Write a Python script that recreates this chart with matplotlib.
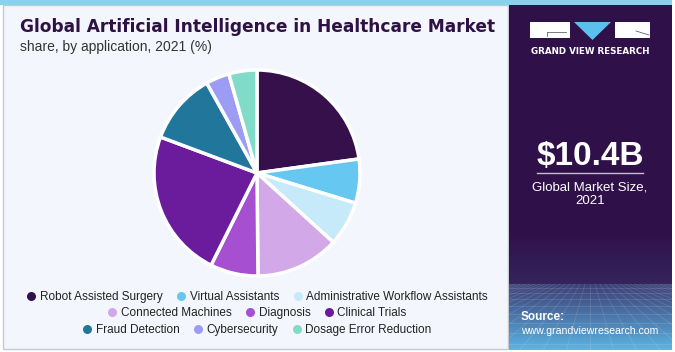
import matplotlib.pyplot as plt
import numpy as np
from matplotlib.patches import Rectangle, Polygon
from matplotlib.lines import Line2D

applications = [
    'Robot Assisted Surgery', 'Virtual Assistants', 'Administrative Workflow Assistants',
    'Connected Machines', 'Diagnosis', 'Clinical Trials',
    'Fraud Detection', 'Cybersecurity', 'Dosage Error Reduction',
]
shares = [22.8, 6.9, 7.0, 13.1, 7.5, 23.3, 11.2, 3.7, 4.4]
colors = ['#36104a', '#66c8f0', '#c6eafa', '#d3a8e8', '#a64fd1',
          '#6a1c9c', '#21779b', '#9c9cf5', '#80dcc8']
market_size = '$10.4B'
market_label = 'Global Market Size,\n2021'

W, H = 675, 352


def px(x, y, w, h):
    # pixel box (top-left origin) -> figure fraction rect
    return [x / W, 1 - (y + h) / H, w / W, h / H]


fig = plt.figure(figsize=(W / 100, H / 100), dpi=100)
fig.patch.set_facecolor('white')

# background panels
bg = fig.add_axes([0, 0, 1, 1])
bg.set_xlim(0, W)
bg.set_ylim(H, 0)
bg.axis('off')
bg.add_patch(Rectangle((3, 5), 505, 344, facecolor='#f3f6fc', edgecolor='#c5c9d2', lw=1))
bg.add_patch(Rectangle((0, 0), 672, 5, facecolor='#8dcfec', lw=0))

# right panel: purple, lighter towards a "floor" grid at the bottom
rp = fig.add_axes(px(509, 5, 163, 345))
rp.set_xlim(509, 672)
rp.set_ylim(350, 5)
rp.axis('off')
top = np.array([0x30, 0x10, 0x49]) / 255
bot = np.array([0x5c, 0xb4, 0xe4]) / 255
ys = np.linspace(5, 350, 345)
t = np.where(ys < 284,
             0.12 * np.clip((ys - 230) / 54, 0, 1),
             0.3 + 0.7 * np.clip((ys - 284) / 66, 0, 1) ** 1.1)
grad = top[None, :] * (1 - t[:, None]) + bot[None, :] * t[:, None]
rp.imshow(grad[:, None, :], extent=(509, 672, 350, 5), aspect='auto', zorder=0)
for k in range(-16, 17):
    rp.plot([590 + k * 5, 590 + k * 24], [284, 352], color='white', alpha=0.13, lw=0.6, zorder=1)
for yy in [288, 293, 299, 306, 314, 323, 333, 344]:
    rp.axhline(yy, color='white', alpha=0.13, lw=0.6, zorder=1)

# logo
rp.add_patch(Rectangle((530, 22), 40, 16, facecolor='white', lw=0, zorder=2))
rp.add_patch(Rectangle((615, 22), 35, 16, facecolor='white', lw=0, zorder=2))
rp.add_patch(Polygon([(574, 22), (611, 22), (592.5, 40)], facecolor='#5cc0ec', lw=0, zorder=2))
rp.add_line(Line2D([547, 566], [32, 32], color='#666666', lw=0.6, zorder=3))
rp.add_line(Line2D([547, 547], [32, 36], color='#666666', lw=0.6, zorder=3))
rp.add_line(Line2D([636, 649], [31, 35], color='#666666', lw=0.6, zorder=3))
rp.text(590, 52, 'GRAND VIEW RESEARCH', color='white', fontsize=6.3, fontweight='bold',
        ha='center', va='center', family='DejaVu Sans', zorder=3)

rp.text(590, 156, market_size, color='white', fontsize=24, fontweight='bold',
        ha='center', va='center', family='Liberation Sans', zorder=3)
rp.add_line(Line2D([537, 643], [173, 173], color='#c9bcd8', lw=1, zorder=3))
rp.text(590, 194, market_label, color='white', fontsize=9.5, ha='center', va='center',
        family='Liberation Sans', linespacing=1.15, zorder=3)
rp.text(521, 317, 'Source:', color='white', fontsize=8.5, fontweight='bold',
        ha='left', va='center', family='Liberation Sans', zorder=3)
rp.text(521, 331, 'www.grandviewresearch.com', color='white', fontsize=7.6,
        ha='left', va='center', family='Liberation Sans', zorder=3)

# titles, main title fitted to the reference width
title = bg.text(20, 32, 'Global Artificial Intelligence in Healthcare Market', color='#2e1145',
                fontsize=13.5, fontweight='heavy', family='DejaVu Sans', ha='left', va='baseline')
renderer = fig.canvas.get_renderer()
w = title.get_window_extent(renderer).width
title.set_fontsize(13.5 * 477 / w)
bg.text(20, 51, 'share, by application, 2021 (%)', color='#333333', fontsize=10,
        family='Liberation Sans', ha='left', va='baseline')

# pie
ax = fig.add_axes(px(257 - 103, 173 - 103, 206, 206))
ax.pie(shares, colors=colors, startangle=90, counterclock=False, radius=1,
       wedgeprops=dict(edgecolor='white', linewidth=2.5))
ax.set_xlim(-1, 1)
ax.set_ylim(-1, 1)
ax.set_aspect('equal')
ax.axis('off')

# legend, three centred rows
rows = [(0, 3, 297), (3, 6, 313), (6, 9, 330)]
for i0, i1, yy in rows:
    handles = [Line2D([], [], marker='o', linestyle='', markersize=6.5,
                      markerfacecolor=colors[i], markeredgecolor='none')
               for i in range(i0, i1)]
    leg = fig.legend(handles, applications[i0:i1], loc='center',
                     bbox_to_anchor=(256 / W, 1 - yy / H), ncol=3, frameon=False,
                     prop={'family': 'Liberation Sans', 'size': 8.5}, handletextpad=0.1,
                     columnspacing=1.0, handlelength=1.2, borderpad=0)
    for txt in leg.get_texts():
        txt.set_color('#222222')

fig.savefig('out.png', dpi=100, facecolor=fig.get_facecolor())
